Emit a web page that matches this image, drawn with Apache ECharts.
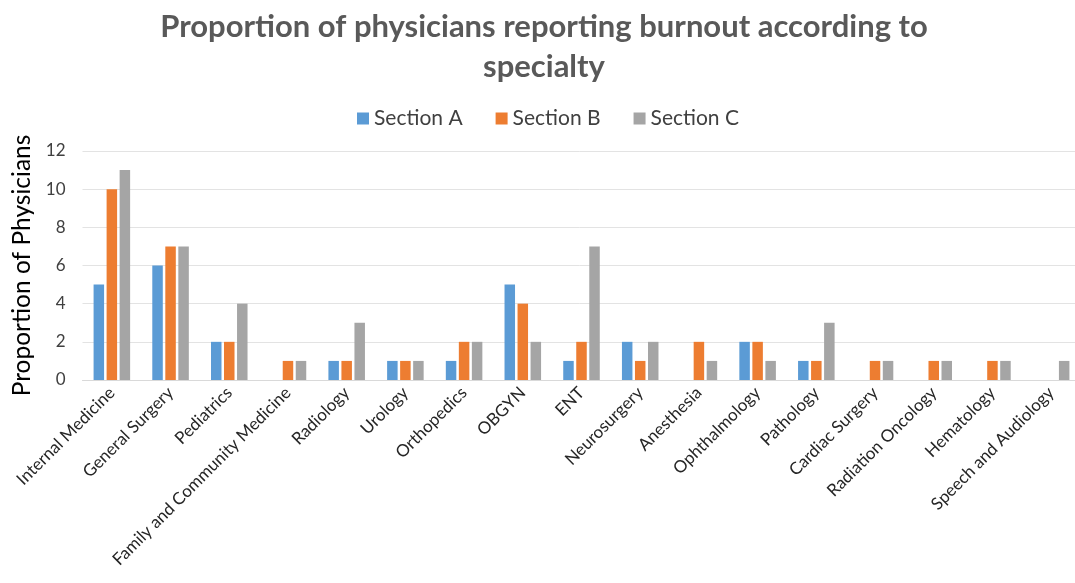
<!DOCTYPE html>
<html>
<head>
<meta charset="utf-8">
<script src="https://cdn.jsdelivr.net/npm/echarts@6/dist/echarts.min.js"></script>
<style>
  html, body { margin: 0; padding: 0; background: #fff; }
  #chart { width: 1075px; height: 583px; }
</style>
</head>
<body>
<div id="chart"></div>
<script>
// Specialties on the category axis
const specialties = [
  'Internal Medicine', 'General Surgery', 'Pediatrics', 'Family and Community Medicine',
  'Radiology', 'Urology', 'Orthopedics', 'OBGYN', 'ENT', 'Neurosurgery', 'Anesthesia',
  'Ophthalmology', 'Pathology', 'Cardiac Surgery', 'Radiation Oncology', 'Hematology',
  'Speech and Audiology'
];

// Physicians reporting burnout, per section
const sectionA = [5, 6, 2, 0, 1, 1, 1, 5, 1, 2, 0, 2, 1, 0, 0, 0, 0];
const sectionB = [10, 7, 2, 1, 1, 1, 2, 4, 2, 1, 2, 2, 1, 1, 1, 1, 0];
const sectionC = [11, 7, 4, 1, 3, 1, 2, 2, 7, 2, 1, 1, 3, 1, 1, 1, 1];

const seriesNames = ['Section A', 'Section B', 'Section C'];
const seriesColors = ['#5B9BD5', '#ED7D31', '#A5A5A5'];
const yTicks = [0, 2, 4, 6, 8, 10, 12];

const titleLines = ['Proportion of physicians reporting burnout according to', 'specialty'];

const font = 'Lato, "Open Sans", "Liberation Sans", sans-serif';

const chart = echarts.init(document.getElementById('chart'));

const makeBar = (name, data, color) => ({
  name: name,
  type: 'bar',
  data: data,
  barWidth: 10.5,
  barGap: '24%',
  itemStyle: { color: color },
  emphasis: { disabled: true }
});

const titleStyle = {
  fontFamily: font,
  fontSize: 31,
  fontWeight: 'bold',
  color: '#595959'
};

chart.setOption({
  animation: false,
  backgroundColor: '#ffffff',
  textStyle: { fontFamily: font },
  title: [
    { text: titleLines[0], left: 539, top: 6, textAlign: 'center', textStyle: titleStyle },
    { text: titleLines[1], left: 539, top: 46, textAlign: 'center', textStyle: titleStyle }
  ],
  legend: {
    data: seriesNames,
    top: 103,
    left: 352,
    itemWidth: 12,
    itemHeight: 12,
    itemGap: 33,
    icon: 'rect',
    textStyle: { fontFamily: font, fontSize: 21, color: '#404040' }
  },
  grid: {
    left: 82.5,
    top: 151,
    width: 998,
    bottom: 203,
    containLabel: false,
    outerBoundsMode: 'none'
  },
  xAxis: {
    type: 'category',
    data: specialties,
    axisLine: { show: true, lineStyle: { color: '#D9D9D9', width: 1 } },
    axisTick: { show: false },
    axisLabel: {
      interval: 0,
      rotate: 45,
      margin: 10,
      fontFamily: font,
      fontSize: 17,
      color: '#262626'
    }
  },
  yAxis: {
    type: 'value',
    min: yTicks[0],
    max: yTicks[yTicks.length - 1],
    interval: 2,
    name: 'Proportion of Physicians',
    nameLocation: 'middle',
    nameGap: 46,
    nameRotate: 90,
    nameTextStyle: { fontFamily: font, fontSize: 24.5, color: '#000000' },
    axisLine: { show: false },
    axisTick: { show: false },
    axisLabel: { fontFamily: font, fontSize: 17, color: '#404040', margin: 17 },
    splitLine: { lineStyle: { color: '#E3E3E3', width: 1 } }
  },
  series: [
    makeBar(seriesNames[0], sectionA, seriesColors[0]),
    makeBar(seriesNames[1], sectionB, seriesColors[1]),
    makeBar(seriesNames[2], sectionC, seriesColors[2])
  ]
});
</script>
</body>
</html>
